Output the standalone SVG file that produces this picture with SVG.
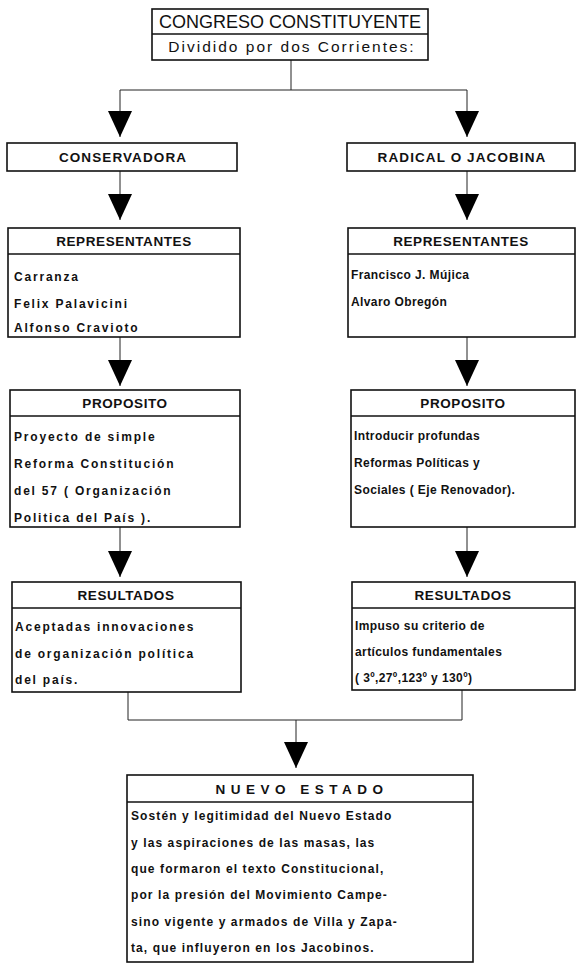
<svg xmlns="http://www.w3.org/2000/svg" width="576" height="966" viewBox="0 0 576 966">
<style>
.bg{fill:#fff}
.box{fill:#fff;stroke:#111;stroke-width:1.6}
.sep{stroke:#111;stroke-width:1.4}
.conn{fill:none;stroke:#222;stroke-width:1}
text{font-family:"Liberation Sans",Arial,sans-serif;fill:#111}
.big{font-size:18px}
.sub{font-size:15.5px;letter-spacing:2px}
.hd{font-size:13.5px;font-weight:bold;letter-spacing:1.1px;text-anchor:middle}
.tl{font-size:13.5px;font-weight:bold;letter-spacing:0.6px;text-anchor:middle}
.bl{font-size:12px;font-weight:bold;letter-spacing:1.8px}
.br{font-size:12px;font-weight:bold;letter-spacing:0.4px}
.bn{font-size:12px;font-weight:bold;letter-spacing:1.1px}
</style>
<defs>
<marker id="ah" markerUnits="userSpaceOnUse" markerWidth="28" markerHeight="26" viewBox="0 -13 27 26" refX="26" refY="0" orient="auto">
<path d="M0,-12 L26,0 L0,12 z" fill="#000"/>
</marker>
</defs>
<rect class="bg" x="0" y="0" width="576" height="966"/>

<g id="connectors">
<path class="conn" d="M291,60 V90 M120,90 H467"/>
<path class="conn" d="M120,90 V137" marker-end="url(#ah)"/>
<path class="conn" d="M467,90 V137" marker-end="url(#ah)"/>
<path class="conn" d="M120,171 V220" marker-end="url(#ah)"/>
<path class="conn" d="M467,171 V220" marker-end="url(#ah)"/>
<path class="conn" d="M120,337 V386" marker-end="url(#ah)"/>
<path class="conn" d="M467,337 V386" marker-end="url(#ah)"/>
<path class="conn" d="M120,527 V577" marker-end="url(#ah)"/>
<path class="conn" d="M467,527 V577" marker-end="url(#ah)"/>
<path class="conn" d="M128,692 V720 H462 V690"/>
<path class="conn" d="M296,720 V768" marker-end="url(#ah)"/>
</g>

<g id="congreso">
<rect class="box" x="152" y="9" width="276" height="51"/>
<line class="sep" x1="152" y1="34" x2="428" y2="34"/>
<text class="big" x="290" y="28" text-anchor="middle">CONGRESO CONSTITUYENTE</text>
<text class="sub" x="292" y="52" text-anchor="middle">Dividido por dos Corrientes:</text>
</g>

<g id="conservadora">
<rect class="box" x="7" y="143" width="230" height="28"/>
<text class="hd" x="123" y="162">CONSERVADORA</text>
</g>

<g id="radical">
<rect class="box" x="347" y="143" width="228" height="28"/>
<text class="hd" x="462" y="162">RADICAL O JACOBINA</text>
</g>

<g id="rep-left">
<rect class="box" x="8" y="228" width="232" height="109"/>
<line class="sep" x1="8" y1="254" x2="240" y2="254"/>
<text class="tl" x="124" y="246">REPRESENTANTES</text>
<text class="bl" x="14" y="281">Carranza</text>
<text class="bl" x="14" y="308">Felix Palavicini</text>
<text class="bl" x="14" y="332">Alfonso Cravioto</text>
</g>

<g id="rep-right">
<rect class="box" x="348" y="228" width="227" height="109"/>
<line class="sep" x1="348" y1="254" x2="575" y2="254"/>
<text class="tl" x="461" y="246">REPRESENTANTES</text>
<text class="br" x="351" y="279">Francisco J. Mújica</text>
<text class="br" x="351" y="306">Alvaro Obregón</text>
</g>

<g id="prop-left">
<rect class="box" x="10" y="390" width="230" height="137"/>
<line class="sep" x1="10" y1="416" x2="240" y2="416"/>
<text class="tl" x="125" y="408">PROPOSITO</text>
<text class="bl" x="14" y="441">Proyecto de simple</text>
<text class="bl" x="14" y="468">Reforma Constitución</text>
<text class="bl" x="14" y="495">del 57 ( Organización</text>
<text class="bl" x="14" y="522">Politica del País ).</text>
</g>

<g id="prop-right">
<rect class="box" x="351" y="390" width="224" height="137"/>
<line class="sep" x1="351" y1="416" x2="575" y2="416"/>
<text class="tl" x="463" y="408">PROPOSITO</text>
<text class="br" x="354" y="440">Introducir profundas</text>
<text class="br" x="354" y="467">Reformas Políticas y</text>
<text class="br" x="354" y="494">Sociales ( Eje Renovador).</text>
</g>

<g id="res-left">
<rect class="box" x="12" y="582" width="229" height="110"/>
<line class="sep" x1="12" y1="608" x2="241" y2="608"/>
<text class="tl" x="126" y="600">RESULTADOS</text>
<text class="bl" x="15" y="631">Aceptadas innovaciones</text>
<text class="bl" x="15" y="658">de organización política</text>
<text class="bl" x="15" y="684">del país.</text>
</g>

<g id="res-right">
<rect class="box" x="352" y="582" width="223" height="108"/>
<line class="sep" x1="352" y1="608" x2="575" y2="608"/>
<text class="tl" x="463" y="600">RESULTADOS</text>
<text class="br" x="355" y="630">Impuso su criterio de</text>
<text class="br" x="355" y="656">artículos fundamentales</text>
<text class="br" x="355" y="682">( 3º,27º,123º y 130º)</text>
</g>

<g id="nuevo-estado">
<rect class="box" x="127" y="775" width="346" height="187"/>
<line class="sep" x1="127" y1="802" x2="473" y2="802"/>
<text class="tl" x="302" y="794" style="letter-spacing:5.5px">NUEVO ESTADO</text>
<text class="bn" x="131" y="820">Sostén y legitimidad del Nuevo Estado</text>
<text class="bn" x="131" y="847">y las aspiraciones  de las masas, las</text>
<text class="bn" x="131" y="873">que formaron el texto Constitucional,</text>
<text class="bn" x="131" y="899">por  la presión del Movimiento Campe-</text>
<text class="bn" x="131" y="926">sino vigente y armados de Villa y Zapa-</text>
<text class="bn" x="131" y="952">ta, que influyeron en los Jacobinos.</text>
</g>
</svg>
